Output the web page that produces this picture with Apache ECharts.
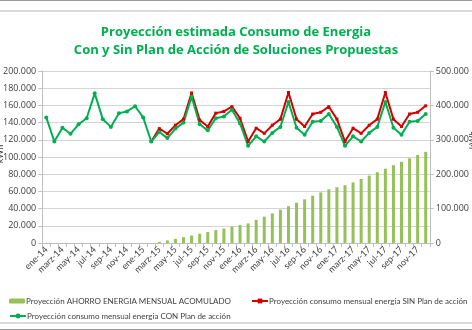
<!DOCTYPE html>
<html>
<head>
<meta charset="utf-8">
<script src="https://cdn.jsdelivr.net/npm/echarts@6/dist/echarts.min.js"></script>
<style>
  html, body { margin: 0; padding: 0; background: #ffffff; }
  #chart { width: 472px; height: 330px; }
</style>
</head>
<body>
<div id="chart"></div>
<script>
// Months ene-14 .. dic-17
const months = [
  'ene-14','feb-14','marz-14','abr-14','may-14','jun-14','jul-14','ago-14','sep-14','oct-14','nov-14','dic-14',
  'ene-15','feb-15','marz-15','abr-15','may-15','jun-15','jul-15','ago-15','sep-15','oct-15','nov-15','dic-15',
  'ene-16','feb-16','marz-16','abr-16','may-16','jun-16','jul-16','ago-16','sep-16','oct-16','nov-16','dic-16',
  'ene-17','feb-17','marz-17','abr-17','may-17','jun-17','jul-17','ago-17','sep-17','oct-17','nov-17','dic-17'
];

// Monthly consumption WITH the action plan (kWh)
const conPlan = [
  146000, 118000, 134000, 127000, 138000, 145000, 174000, 144000, 135000, 151000, 153000, 159000,
  146000, 118000, 129000, 122000, 133000, 140000, 170000, 138000, 131000, 145000, 147000, 155000,
  139000, 113000, 124000, 118000, 128000, 135000, 164000, 134000, 126000, 141000, 142000, 150000,
  135000, 113000, 124000, 118000, 128000, 135000, 164000, 134000, 126000, 141000, 142000, 150000
];

// Monthly consumption WITHOUT the action plan (kWh); drawn from feb-15 on
const sinPlan = [
  null, null, null, null, null, null, null, null, null, null, null, null,
  null, 118000, 133000, 127000, 137000, 144000, 174500, 143000, 135500, 151000, 153000, 158500,
  145000, 118000, 133500, 127500, 137000, 144000, 175000, 144000, 135500, 150000, 152000, 158500,
  144000, 118000, 133500, 127500, 137000, 144000, 175000, 144000, 135500, 150000, 152000, 159500
];

// Accumulated monthly energy savings (kWh, right axis)
const ahorroAcumulado = [
  0, 0, 0, 0, 0, 0, 0, 0, 0, 0, 0, 0,
  0, 0, 3000, 7500, 12000, 17000, 22000, 27000, 32000, 37500, 42000, 47500,
  52000, 57000, 67000, 76500, 86000, 97000, 107000, 117000, 127000, 137500, 147000, 156000,
  162000, 168000, 176000, 186000, 196000, 206000, 216000, 226000, 236000, 246000, 256000, 265000
];

const titleLines = ['Proyección estimada Consumo de Energia', 'Con y Sin Plan de Acción de Soluciones Propuestas'];
const seriesNames = [
  'Proyección AHORRO ENERGIA MENSUAL ACOMULADO',
  'Proyección consumo mensual energia SIN Plan de acción',
  'Proyección consumo mensual energia CON Plan de acción'
];
const unitName = 'kWh';

const FONT = '"Open Sans", "Liberation Sans", sans-serif';
const SMALL = 'Lato, "Open Sans", sans-serif';
const TXT = '#404040';
const GREEN = '#00b050';
const RED = '#d40000';
const BAR = '#96c05a';

function thousands(v) {
  return String(v).replace(/\B(?=(\d{3})+(?!\d))/g, '.');
}

const legendText = { color: TXT, fontSize: 8, fontFamily: SMALL, padding: [0, 0, 0, -4] };

const chart = echarts.init(document.getElementById('chart'), null, { renderer: 'canvas' });

chart.setOption({
  animation: false,
  backgroundColor: '#ffffff',
  textStyle: { fontFamily: FONT },
  graphic: [
    { type: 'line', shape: { x1: 0, y1: 0.5, x2: 472, y2: 0.5 }, style: { stroke: '#9a9a9a', lineWidth: 1 } },
    { type: 'line', shape: { x1: 0, y1: 11, x2: 472, y2: 11 }, style: { stroke: '#dcdcdc', lineWidth: 2 } },
    { type: 'line', shape: { x1: 0, y1: 323, x2: 472, y2: 323 }, style: { stroke: '#dcdcdc', lineWidth: 2 } },
    { type: 'line', shape: { x1: 0, y1: 329.5, x2: 472, y2: 329.5 }, style: { stroke: '#9a9a9a', lineWidth: 1 } },
    // axis unit captions, sitting at the very edges of the canvas
    { type: 'text', x: 0, y: 154, rotation: Math.PI / 2,
      style: { text: unitName, align: 'center', verticalAlign: 'middle', fill: TXT, font: '9px Lato, sans-serif' } },
    { type: 'text', x: 473, y: 140, rotation: Math.PI / 2,
      style: { text: unitName, align: 'center', verticalAlign: 'middle', fill: TXT, font: '9px Lato, sans-serif' } }
  ],
  title: {
    text: titleLines.join('\n'),
    left: 'center',
    top: 18,
    textStyle: { color: GREEN, fontSize: 13, fontWeight: 'bold', fontFamily: FONT, lineHeight: 18.5 }
  },
  legend: [
    { data: [seriesNames[0]], left: 4, top: 292, itemWidth: 16, itemHeight: 5, textStyle: legendText },
    { data: [seriesNames[1]], left: 246, top: 292, itemWidth: 16, itemHeight: 6, textStyle: legendText },
    { data: [seriesNames[2]], left: 4, top: 307, itemWidth: 16, itemHeight: 6, textStyle: legendText }
  ],
  grid: { left: 42, right: 38, top: 71, bottom: 87, containLabel: false },
  xAxis: {
    type: 'category',
    data: months,
    boundaryGap: true,
    axisLine: { lineStyle: { color: '#bfbfbf' } },
    axisTick: { show: true, interval: 0, length: 4, lineStyle: { color: '#bfbfbf' } },
    axisLabel: { interval: 1, rotate: 45, fontSize: 9, color: TXT, margin: 5, fontFamily: SMALL }
  },
  yAxis: [
    {
      type: 'value', min: 0, max: 200000, interval: 20000,
      axisLine: { show: true, lineStyle: { color: '#bfbfbf' } },
      axisTick: { show: true, length: 4, lineStyle: { color: '#bfbfbf' } },
      splitLine: { lineStyle: { color: '#d4d4d4' } },
      axisLabel: { fontSize: 9, color: TXT, margin: 6, fontFamily: FONT, formatter: thousands }
    },
    {
      type: 'value', min: 0, max: 500000, interval: 100000,
      axisLine: { show: true, lineStyle: { color: '#bfbfbf' } },
      axisTick: { show: true, length: 4, lineStyle: { color: '#bfbfbf' } },
      splitLine: { show: false },
      axisLabel: { fontSize: 9, color: TXT, margin: 6, fontFamily: FONT, formatter: thousands }
    }
  ],
  series: [
    {
      name: seriesNames[0], type: 'bar', yAxisIndex: 1,
      data: ahorroAcumulado, barWidth: 3,
      itemStyle: { color: BAR }
    },
    {
      name: seriesNames[1], type: 'line', yAxisIndex: 0,
      data: sinPlan, connectNulls: false,
      symbol: 'rect', symbolSize: 3, showSymbol: true,
      lineStyle: { color: RED, width: 2 },
      itemStyle: { color: RED }
    },
    {
      name: seriesNames[2], type: 'line', yAxisIndex: 0,
      data: conPlan,
      symbol: 'circle', symbolSize: 4, showSymbol: true,
      lineStyle: { color: GREEN, width: 2 },
      itemStyle: { color: GREEN }
    }
  ]
});
</script>
</body>
</html>
